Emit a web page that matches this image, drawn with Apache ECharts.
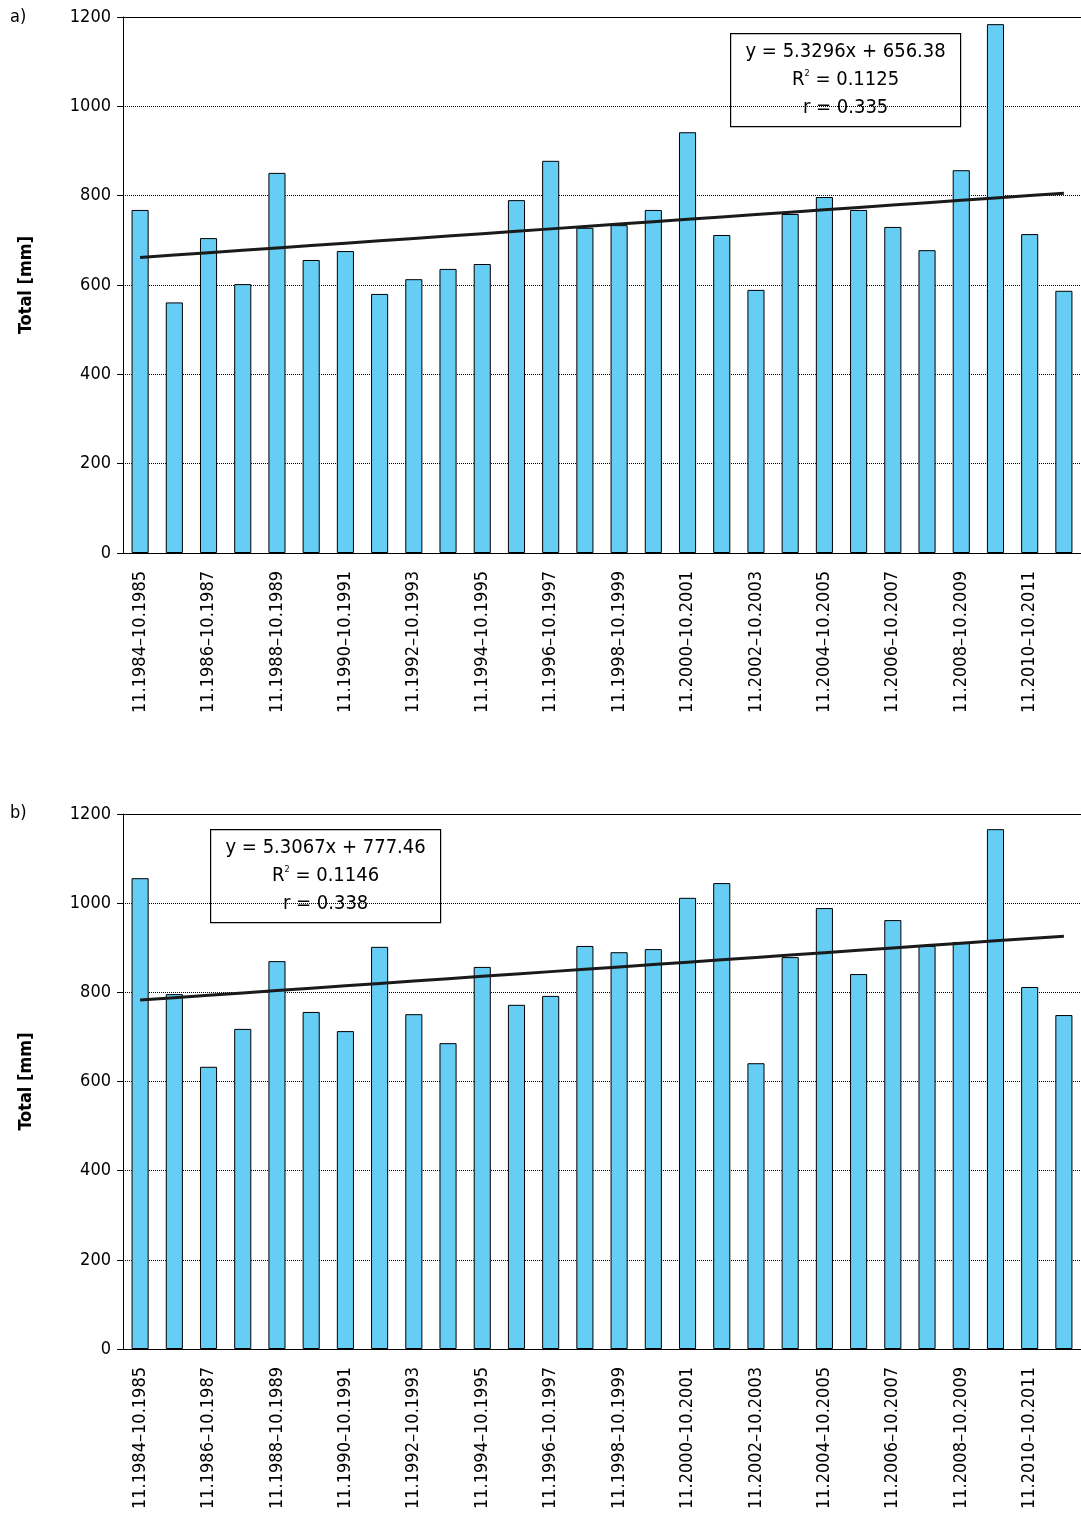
<!DOCTYPE html>
<html><head><meta charset="utf-8">
<script src="https://cdn.jsdelivr.net/npm/echarts@6/dist/echarts.min.js"></script>
<style>html,body{margin:0;padding:0;background:#fff}#c{width:1081px;height:1524px}</style>
</head><body><div id="c"></div>
<script>
const categories = [];
for (let y = 1984; y <= 2011; y++) categories.push('11.' + y + '–10.' + (y + 1));
const valuesA = [768,561,705,602,851,656,676,580,613,636,647,790,878,728,734,768,942,712,589,759,797,768,730,678,857,1184,714,587];
const valuesB = [1056,796,633,718,870,756,713,902,751,686,857,772,792,904,890,897,1012,1045,641,879,989,841,962,904,913,1166,812,749];
const trendA = [5.3296, 656.38];
const trendB = [5.3067, 777.46];
const yTicks = [0,200,400,600,800,1000,1200];
const trendLine = t => categories.map((c,i)=> +(t[0]*(i+1)+t[1]).toFixed(2));
const F = "'DejaVu Sans Condensed','Liberation Sans Narrow',sans-serif";
const grids = [{left:123,top:17,width:960,height:536},{left:123,top:814,width:960,height:535}];
const xAxes = [], yAxes = [], series = [];
[valuesA, valuesB].forEach((vals, g) => {
  xAxes.push({type:'category',gridIndex:g,data:categories,axisTick:{show:false},
    axisLine:{lineStyle:{color:'#000'}},
    axisLabel:{rotate:90,interval:1,color:'#000',fontFamily:F,fontSize:18,margin:18}});
  xAxes.push({type:'category',gridIndex:g,position:'top',data:categories,axisTick:{show:false},axisLabel:{show:false},axisLine:{lineStyle:{color:'#000'}}});
  yAxes.push({type:'value',gridIndex:g,min:yTicks[0],max:yTicks[yTicks.length-1],interval:200,
    name:'Total [mm]',nameLocation:'middle',nameGap:88,nameTextStyle:{fontFamily:F,fontWeight:'bold',fontSize:18,color:'#000'},
    axisLine:{show:true,lineStyle:{color:'#000'}},axisTick:{show:true,length:6,lineStyle:{color:'#000'}},
    axisLabel:{color:'#000',fontFamily:F,fontSize:18,margin:12,formatter:v=>String(v)},
    splitLine:{lineStyle:{color:'#000',type:'dotted'}}});
  series.push({type:'bar',xAxisIndex:g*2,yAxisIndex:g,data:vals,barWidth:'50%',
    itemStyle:{color:'#66cdf4',borderColor:'#000',borderWidth:1}});
  series.push({type:'line',xAxisIndex:g*2,yAxisIndex:g,data:trendLine(g?trendB:trendA),symbol:'none',
    lineStyle:{color:'#1a1a1a',width:3},z:5});
});
const box = (x,y,t) => ({type:'group',left:x,top:y,children:[
  {type:'rect',shape:{x:0,y:0,width:230,height:93},style:{fill:'#fff',stroke:'#000',lineWidth:1.2}},
  {type:'text',x:115,y:8,style:{text:'y = '+t[0]+'x + '+t[1],font:'20px '+F,fill:'#000',align:'center'}},
  {type:'text',x:115,y:36,style:{text:'R{s|2} = '+t[2],rich:{s:{fontSize:9,verticalAlign:'top',fontFamily:F}},font:'20px '+F,fill:'#000',align:'center'}},
  {type:'text',x:115,y:64,style:{text:'r = '+t[3],font:'20px '+F,fill:'#000',align:'center'}}
]});
const chart = echarts.init(document.getElementById('c'));
chart.setOption({animation:false,grid:grids,xAxis:xAxes,yAxis:yAxes,series:series,
  graphic:[
    {type:'text',left:10,top:8,style:{text:'a)',font:'18px '+F,fill:'#000'}},
    {type:'text',left:10,top:804,style:{text:'b)',font:'18px '+F,fill:'#000'}},
    box(730,33,['5.3296','656.38','0.1125','0.335']),
    box(210,829,['5.3067','777.46','0.1146','0.338'])
  ]});
</script></body></html>
